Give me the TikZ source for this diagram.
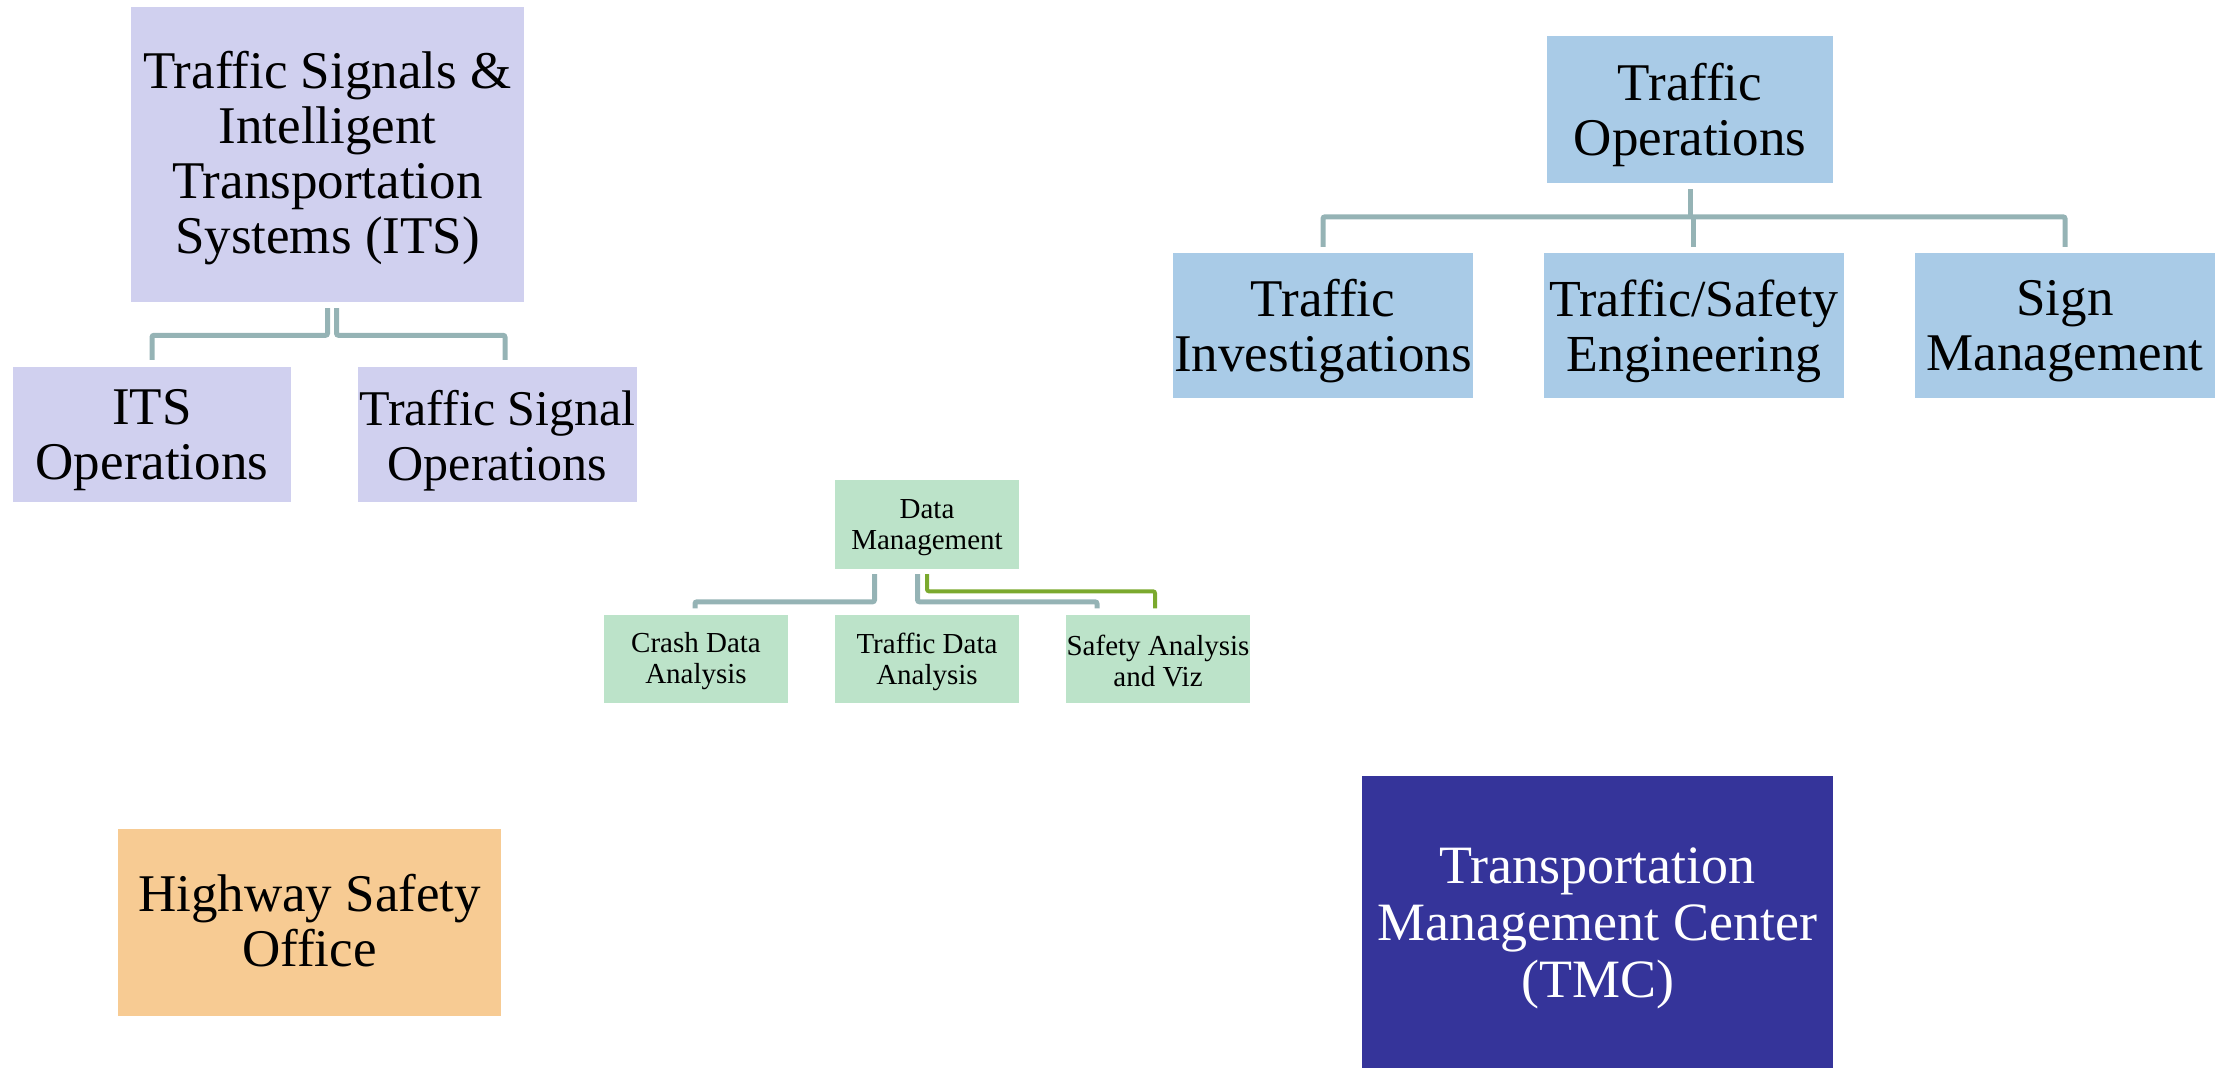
\documentclass[tikz,border=0pt]{standalone}
\usepackage{fontspec}
\setmainfont{Liberation Serif}
\usetikzlibrary{calc}
\definecolor{lav}{HTML}{D0D0EF}
\definecolor{opsblue}{HTML}{A9CBE7}
\definecolor{dmg}{HTML}{BCE3C9}
\definecolor{hsoc}{HTML}{F7CB93}
\definecolor{tmcc}{HTML}{35349A}
\definecolor{connc}{HTML}{95B3B5}
\definecolor{gline}{HTML}{7BA92E}
\begin{document}
\begin{tikzpicture}[x=1pt,y=-1pt,
  box/.style={rectangle, inner sep=0pt},
  txt/.style={align=center, inner sep=0pt, yshift=-6pt, font=\fontsize{53}{55}\selectfont},
  stxt/.style={align=center, inner sep=0pt, yshift=-3pt, font=\fontsize{29}{31}\selectfont},
  lavbox/.style={box, fill=lav},
  bluebox/.style={box, fill=opsblue, minimum width=300pt, minimum height=145pt},
  smallbox/.style={box, fill=dmg, minimum width=184pt, minimum height=88pt},
  conn/.style={draw=connc, line width=5pt, rounded corners=2pt},
  gconn/.style={draw=gline, line width=4pt, rounded corners=2pt}]
\useasboundingbox (0,0) rectangle (2238,1068);

% ITS group
\node[lavbox, minimum width=393pt, minimum height=295pt,
  label={[txt, yshift=2pt]center:Traffic Signals \&\\Intelligent\\Transportation\\Systems (ITS)}] (its) at (327.5,154.5) {};
\node[lavbox, minimum width=278pt, minimum height=135pt,
  label={[txt]center:ITS\\Operations}] (itsops) at (152,434.5) {};
\node[lavbox, minimum width=279pt, minimum height=135pt,
  label={[txt, font=\fontsize{50}{55}\selectfont]center:Traffic Signal\\Operations}] (tso) at (497.5,434.5) {};
\draw[conn] ($(its.south)+(0,6)$) |- ($(itsops.north)+(0,-31.5)$) -- ($(itsops.north)+(0,-7)$);
\draw[conn] ($(its.south)+(9,6)$) |- ($(tso.north)+(7.5,-31.5)$) -- ($(tso.north)+(7.5,-7)$);

% Traffic Operations group
\node[box, fill=opsblue, minimum width=286pt, minimum height=147pt,
  label={[txt, yshift=1pt]center:Traffic\\Operations}] (to) at (1690,109.5) {};
\node[bluebox, label={[txt]center:Traffic\\Investigations}] (ti) at (1323,325.5) {};
\node[bluebox, label={[txt, font=\fontsize{52}{55}\selectfont]center:Traffic/Safety\\Engineering}] (tse) at (1694,325.5) {};
\node[bluebox, label={[txt]center:Sign\\Management}] (sm) at (2065,325.5) {};
\draw[conn] ($(to.south)+(0,6)$) -- ($(to.south)+(0,34)$);
\draw[conn] ($(ti.north)+(0,-6)$) |- ($(sm.north)+(0,-36)$) -- ($(sm.north)+(0,-6)$);
\draw[conn] ($(tse.north)+(-1,-36)$) -- ($(tse.north)+(-1,-6)$);

% Data Management group
\node[smallbox, minimum height=89pt, label={[stxt]center:Data\\Management}] (dm) at (927,524.5) {};
\node[smallbox, label={[stxt]center:Crash Data\\Analysis}] (crash) at (696,658.5) {};
\node[smallbox, label={[stxt]center:Traffic Data\\Analysis}] (tda) at (927,658.5) {};
\node[smallbox, label={[stxt]center:Safety Analysis\\and Viz}] (saf) at (1158,658.5) {};
\draw[conn] ($(dm.south)+(-52.5,5)$) |- ($(crash.north)+(-1,-12.5)$) -- ($(crash.north)+(-1,-6)$);
\draw[conn] ($(dm.south)+(-9.5,5)$) |- ($(saf.north)+(-61,-12.5)$) -- ($(saf.north)+(-61,-6)$);
\draw[gconn] ($(dm.south)+(0,5)$) |- ($(saf.north)+(-3,-23)$) -- ($(saf.north)+(-3,-6)$);

% Standalone boxes
\node[box, fill=hsoc, minimum width=383pt, minimum height=187pt,
  label={[txt, yshift=8pt]center:Highway Safety\\Office}] (hso) at (309.5,922.5) {};
\node[box, fill=tmcc, minimum width=471pt, minimum height=292pt,
  label={[txt, text=white, font=\fontsize{54}{57}\selectfont]center:Transportation\\Management Center\\(TMC)}] (tmc) at (1597.5,922) {};
\end{tikzpicture}
\end{document}
